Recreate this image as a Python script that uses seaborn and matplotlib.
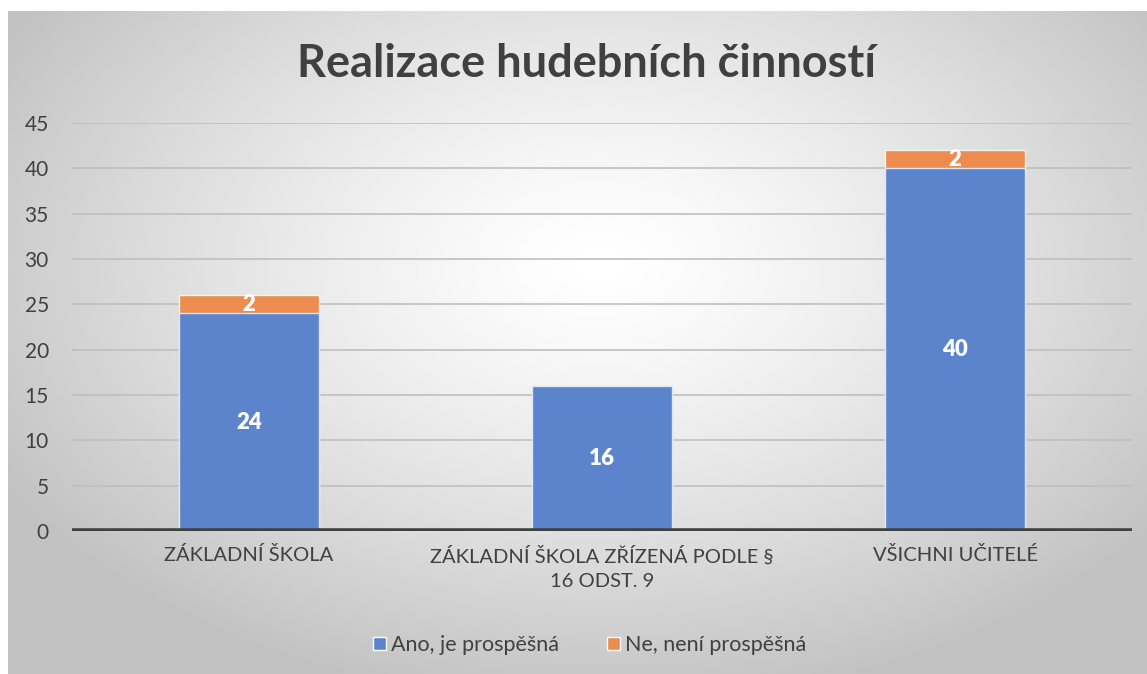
import numpy as np
import pandas as pd
import matplotlib
matplotlib.use("Agg")
import matplotlib.pyplot as plt
import seaborn as sns
from matplotlib.patches import Patch

# data
kategorie = ["ZÁKLADNÍ ŠKOLA", "ZÁKLADNÍ ŠKOLA ZŘÍZENÁ PODLE §\n16 ODST. 9", "VŠICHNI UČITELÉ"]
ano = [24, 16, 40]
ne = [2, 0, 2]
serie = ["Ano, je prospěšná", "Ne, není prospěšná"]
yticks = [0, 5, 10, 15, 20, 25, 30, 35, 40, 45]

modra = "#5B84CC"
oranzova = "#EC8C4F"
text_barva = "#404040"

sns.set_theme(style="white")
plt.rcParams["font.family"] = ["Lato", "DejaVu Sans"]

df = pd.DataFrame({"kategorie": kategorie, "ano": ano, "ne": ne})
df["celkem"] = df["ano"] + df["ne"]

fig = plt.figure(figsize=(11.47, 6.74), dpi=100)

# pozadi - radialni gradient
bg = fig.add_axes([8 / 1147, 0, 1 - 8 / 1147, 1 - 11 / 674], zorder=-10)
xx, yy = np.meshgrid(np.linspace(0, 1, 400), np.linspace(0, 1, 240))
r = np.sqrt(((xx - 0.52) / 0.72) ** 2 + ((yy - 0.62) / 0.8) ** 2)
val = np.clip(1.0 - 0.3 * r ** 1.3, 0.76, 1.0)
bg.imshow(val, cmap="gray", vmin=0, vmax=1, extent=[0, 1, 0, 1], aspect="auto", origin="lower")
bg.set_axis_off()

ax = fig.add_axes([0.0632, 0.2122, 0.9233, 0.6053])
ax.patch.set_alpha(0)

sns.barplot(data=df, x="kategorie", y="celkem", color=oranzova, saturation=1,
            width=0.397, edgecolor="#f2f2f2", linewidth=1, ax=ax, zorder=3)
sns.barplot(data=df, x="kategorie", y="ano", color=modra, saturation=1,
            width=0.397, edgecolor="#dfe6f3", linewidth=1, ax=ax, zorder=4)

for i, row in df.iterrows():
    ax.text(i, row["ano"] / 2, str(row["ano"]), ha="center", va="center",
            color="white", fontsize=16, fontweight="heavy", zorder=5)
    if row["ne"] > 0:
        ax.text(i, row["ano"] + row["ne"] / 2, str(row["ne"]), ha="center", va="center",
                color="white", fontsize=16, fontweight="heavy", zorder=5)

ax.set_ylim(0, 45)
ax.set_xlim(-0.5, 2.5)
ax.set_yticks(yticks)
ax.yaxis.grid(True, color="#bfbfbf", linewidth=1.2, zorder=0)
ax.set_axisbelow(True)
ax.axhline(0, color="#404040", linewidth=4, zorder=6)
for s in ax.spines.values():
    s.set_visible(False)
ax.tick_params(axis="y", length=0, pad=17, labelsize=15, labelcolor=text_barva)
ax.tick_params(axis="x", length=0, pad=11, labelsize=14.5, labelcolor=text_barva)
for lbl in ax.get_xticklabels():
    lbl.set_linespacing(1.5)
ax.set_xlabel("")
ax.set_ylabel("")

fig.text(0.511, 0.905, "Realizace hudebních činností", ha="center", va="center",
         fontsize=32.5, fontweight="bold", color=text_barva)

handles = [Patch(facecolor=modra, label=serie[0]), Patch(facecolor=oranzova, label=serie[1])]
fig.legend(handles=handles, loc="center", bbox_to_anchor=(0.514, 0.043), ncol=2, frameon=False,
           fontsize=15.5, labelcolor=text_barva, handlelength=0.6, handleheight=0.6,
           handletextpad=0.25, columnspacing=2.2)

fig.savefig("out.png", dpi=100)
